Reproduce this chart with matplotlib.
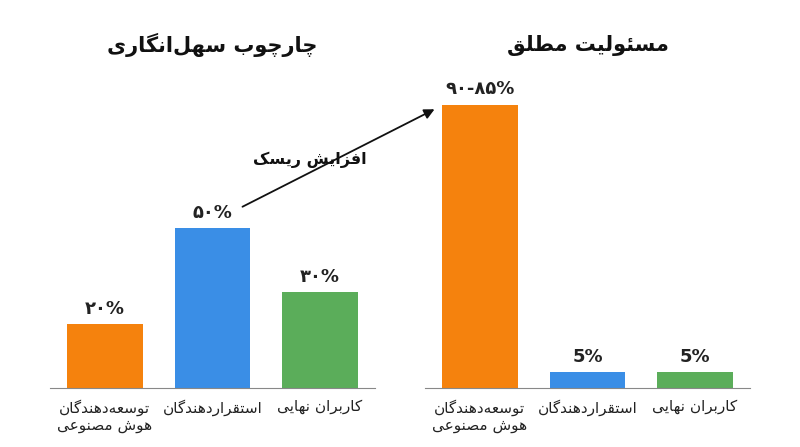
import unicodedata
import matplotlib
matplotlib.use("Agg")
import matplotlib.pyplot as plt

NONJOIN_AFTER = set("اآأإدذرزژو")
def reshape(s):
    out = []
    chars = list(s)
    def is_ar(c):
        return c and '\u0600' <= c <= '\u06FF'
    for i, c in enumerate(chars):
        if not is_ar(c):
            out.append(c if c != '\u200c' else '')
            continue
        prev = chars[i-1] if i > 0 else ''
        nxt = chars[i+1] if i+1 < len(chars) else ''
        jp = is_ar(prev) and prev not in NONJOIN_AFTER
        jn = is_ar(nxt)
        if c in NONJOIN_AFTER:
            jn = False
        name = unicodedata.name(c)
        if jp and jn: form = "MEDIAL"
        elif jp: form = "FINAL"
        elif jn: form = "INITIAL"
        else: form = "ISOLATED"
        g = c
        for f in [form] + (["FINAL"] if form == "MEDIAL" else []) + (["ISOLATED"] if form == "INITIAL" else []):
            try:
                g = unicodedata.lookup(name + " " + f + " FORM"); break
            except KeyError:
                continue
        out.append(g)
    return "".join(out)[::-1]

def fa(s):
    return "\n".join(reshape(l) for l in s.split("\n"))

plt.rcParams['font.family'] = ['DejaVu Sans']

categories = ["توسعه‌دهندگان\nهوش مصنوعی", "استقراردهندگان", "کاربران نهایی"]
left_values = [20, 50, 30]
right_values = [88.5, 5, 5]
left_labels = ["۲۰%", "۵۰%", "۳۰%"]
right_labels = ["۹۰-۸۵%", "5%", "5%"]
colors = ["#F5820D", "#3A8EE6", "#5BAD5A"]
titles = ["چارچوب سهل‌انگاری", "مسئولیت مطلق"]

W, H = 800, 447
fig = plt.figure(figsize=(8, 4.47), dpi=100)
axes = [fig.add_axes([50/W, 59/H, 325/W, 320/H]), fig.add_axes([425/W, 59/H, 325/W, 320/H])]
for ax, vals, labs, t in zip(axes, [left_values, right_values], [left_labels, right_labels], titles):
    x = range(len(vals))
    ax.bar(x, vals, width=0.7, color=colors)
    for xi, v, l in zip(x, vals, labs):
        ax.text(xi, v + 2.0, l, ha='center', va='bottom', fontsize=13, fontweight='bold', color='#222')
    ax.set_xlim(-0.51, 2.51)
    ax.set_ylim(0, 100)
    ax.set_yticks([])
    ax.set_xticks(list(x))
    ax.set_xticklabels([fa(c) for c in categories], fontsize=11, color='#222')
    ax.tick_params(axis='x', length=0, pad=8)
    for s in ['top', 'left', 'right']:
        ax.spines[s].set_visible(False)
    ax.spines['bottom'].set_color('#888')
    bb = ax.get_position()
    fig.text((bb.x0 + bb.x1) / 2, 1 - 45/H, fa(t), ha='center', va='center',
             fontsize=15, fontweight='bold', color='#111')

fig.patches.append(matplotlib.patches.FancyArrowPatch((240/W, 1-208/H), (437/W, 1-108/H),
    transform=fig.transFigure, arrowstyle='-|>', mutation_scale=15, color='#111', lw=1.3))
fig.text(310/W, 1-160/H, fa("افزایش ریسک"), ha='center', va='center', fontsize=11.5, fontweight='bold', color='#111')
fig.savefig("out.png", dpi=100, facecolor='white')
